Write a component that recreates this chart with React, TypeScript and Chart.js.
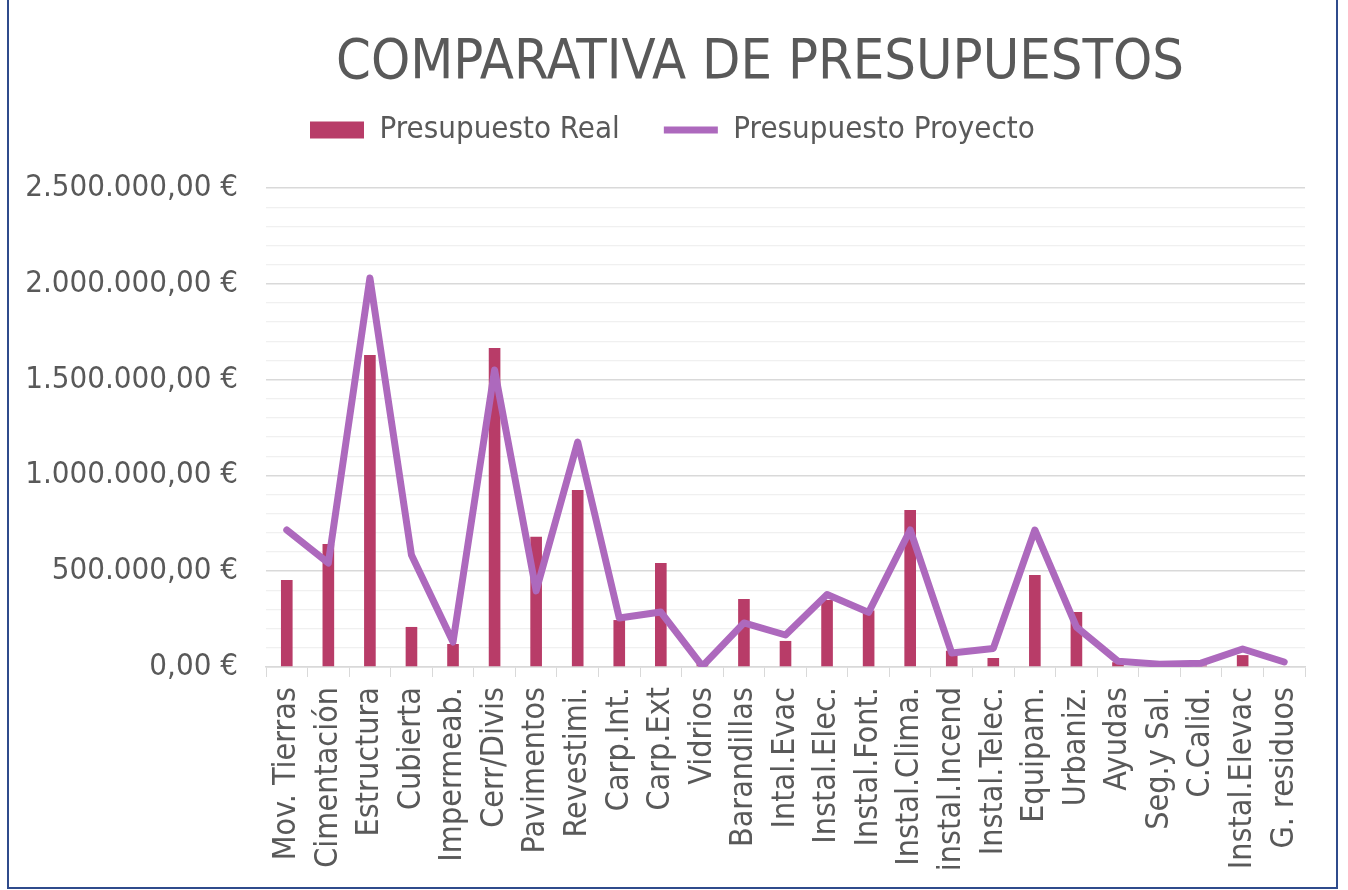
import React, { useEffect, useRef } from "react";
import { Chart, registerables } from "chart.js";

Chart.register(...registerables);

const categories: string[] = [
  "Mov. Tierras", "Cimentación", "Estructura", "Cubierta", "Impermeab.",
  "Cerr/Divis", "Pavimentos", "Revestimi.", "Carp.Int.", "Carp.Ext",
  "Vidrios", "Barandillas", "Intal.Evac", "Instal.Elec.", "Instal.Font.",
  "Instal.Clima.", "instal.Incend", "Instal.Telec.", "Equipam.", "Urbaniz.",
  "Ayudas", "Seg.y Sal.", "C.Calid.", "Instal.Elevac", "G. residuos",
];

const presupuestoReal: number[] = [
  454000, 642000, 1628000, 209000, 120000,
  1665000, 680000, 924000, 245000, 543000,
  25000, 355000, 136000, 350000, 295000,
  819000, 85000, 47000, 480000, 287000,
  25000, 6000, 8000, 62000, 4000,
];

const presupuestoProyecto: number[] = [
  715000, 543000, 2030000, 585000, 130000,
  1550000, 397000, 1174000, 256000, 287000,
  4000, 230000, 167000, 378000, 285000,
  715000, 73000, 97000, 715000, 209000,
  30000, 15000, 20000, 94000, 26000,
];

const seriesNames: string[] = ["Presupuesto Real", "Presupuesto Proyecto"];
const chartTitle = "COMPARATIVA DE PRESUPUESTOS";
const yMax = 2500000;
const yStep = 100000;
const yLabelStep = 500000;

const TEXT = "#595959";
const COND = "'DejaVu Sans Condensed', 'DejaVu Sans', sans-serif";

function euro(v: number): string {
  const [int, dec] = Math.abs(v).toFixed(2).split(".");
  const grouped = int.replace(/\B(?=(\d{3})+(?!\d))/g, ".");
  return `${v < 0 ? "-" : ""}${grouped},${dec} €`;
}

const layoutTweaks = {
  id: "layoutTweaks",
  afterInit(chart: any) {
    const lg = chart.legend;
    if (!lg) return;
    const fit = lg.fit;
    lg.fit = function () {
      fit.call(this);
      this.height += 32.5;
    };
  },
  afterLayout(chart: any) {
    const t = chart.titleBlock;
    if (t) t.left = 215;
  },
};

export default function App() {
  const ref = useRef<HTMLCanvasElement | null>(null);

  useEffect(() => {
    if (!ref.current) return;
    const chart = new Chart(ref.current, {
      type: "bar",
      data: {
        labels: categories,
        datasets: [
          {
            type: "bar",
            label: seriesNames[0],
            data: presupuestoReal,
            backgroundColor: "#B83C68",
            borderWidth: 0,
            barPercentage: 0.28,
            categoryPercentage: 1,
            order: 1,
            pointStyle: "rect",
          } as any,
          {
            type: "line",
            label: seriesNames[1],
            data: presupuestoProyecto,
            borderColor: "#AD69BD",
            backgroundColor: "#AD69BD",
            borderWidth: 7,
            pointRadius: 0,
            pointHoverRadius: 0,
            tension: 0,
            borderJoinStyle: "round",
            borderCapStyle: "round",
            order: 0,
            pointStyle: "line",
          } as any,
        ],
      },
      options: {
        responsive: false,
        animation: false,
        layout: { padding: { left: 20, right: 43, top: 0, bottom: 0 } },
        plugins: {
          title: {
            display: true,
            text: chartTitle,
            color: TEXT,
            font: { family: COND, size: 55.5, weight: "normal", lineHeight: 0.1 },
            padding: { top: 60.9, bottom: 4 },
          },
          legend: {
            display: true,
            position: "top",
            align: "start",
            fullSize: false,
            labels: {
              usePointStyle: true,
              pointStyleWidth: 54,
              boxHeight: 17,
              padding: 44,
              color: TEXT,
              font: { family: COND, size: 31 },
              sort: (a: any, b: any) => a.datasetIndex - b.datasetIndex,
            },
          },
          tooltip: { enabled: false },
        },
        scales: {
          x: {
            offset: true,
            grid: {
              display: true,
              drawOnChartArea: false,
              drawTicks: true,
              tickLength: 10,
              color: "#D9D9D9",
              offset: true,
            },
            border: { display: true, color: "#D9D9D9", width: 1.5 },
            ticks: {
              color: TEXT,
              font: { family: COND, size: 32 },
              maxRotation: 90,
              minRotation: 90,
              autoSkip: false,
              padding: 10,
            },
            afterFit: (scale: any) => {
              scale.height = 223;
            },
          },
          y: {
            min: 0,
            max: yMax,
            border: { display: false },
            grid: {
              drawTicks: false,
              color: (ctx: any) =>
                ctx.tick && ctx.tick.value % yLabelStep === 0 ? "#D9D9D9" : "#F0F0F0",
              lineWidth: (ctx: any) =>
                ctx.tick && ctx.tick.value % yLabelStep === 0 ? 1.4 : 1.2,
            },
            ticks: {
              stepSize: yStep,
              autoSkip: false,
              padding: 28,
              color: TEXT,
              font: { family: COND, size: 31 },
              callback: (value: any) =>
                Number(value) % yLabelStep === 0 ? euro(Number(value)) : "",
            },
            afterFit: (scale: any) => {
              scale.width = 246;
            },
          },
        },
      } as any,
      plugins: [layoutTweaks],
    });
    return () => chart.destroy();
  }, []);

  return (
    <div
      style={{
        position: "fixed",
        left: 0,
        top: 0,
        width: 1348,
        height: 890,
        background: "#ffffff",
        overflow: "hidden",
      }}
    >
      <canvas ref={ref} width={1348} height={890} style={{ display: "block" }} />
      <div
        style={{
          position: "absolute",
          left: 7,
          top: -10,
          width: 1327,
          height: 897,
          borderLeft: "2px solid #2F4B8C",
          borderRight: "2px solid #2F4B8C",
          borderBottom: "2px solid #2F4B8C",
          pointerEvents: "none",
        }}
      />
    </div>
  );
}
